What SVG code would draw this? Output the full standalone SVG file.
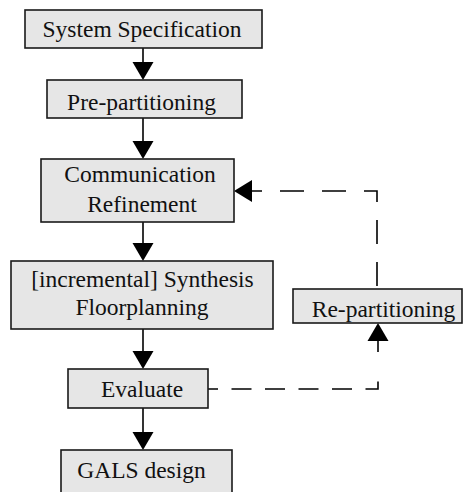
<svg xmlns="http://www.w3.org/2000/svg" width="463" height="492" viewBox="0 0 463 492">
<style>
.box{fill:#e6e6e6;stroke:#1a1a1a;stroke-width:1.6}
.t{font-family:"Liberation Serif","Times New Roman",serif;font-size:23.5px;fill:#111;text-anchor:middle}
.ln{stroke:#000;stroke-width:1.6;fill:none}
.ds{stroke:#000;stroke-width:1.6;fill:none}
.ah{fill:#000}
</style>
<rect width="463" height="492" fill="#fff"/>
<g id="connectors">
<path class="ln" d="M143,48V62"/>
<polygon class="ah" points="132.5,62 153.5,62 143,80"/>
<path class="ln" d="M143,118V141"/>
<polygon class="ah" points="132.5,141 153.5,141 143,159"/>
<path class="ln" d="M143,222V243"/>
<polygon class="ah" points="132.5,243 153.5,243 143,261"/>
<path class="ln" d="M143,329V351"/>
<polygon class="ah" points="132.5,351 153.5,351 143,369"/>
<path class="ln" d="M143,408V432"/>
<polygon class="ah" points="132.5,432 153.5,432 143,450"/>
<path class="ds" d="M207,389H378V379" stroke-dasharray="20 13.5" stroke-dashoffset="9"/>
<path class="ln" d="M378,352V341"/>
<polygon class="ah" points="367.5,341 388.5,341 378,323"/>
<path class="ds" d="M252,191H377V292" stroke-dasharray="24 18" stroke-dashoffset="14"/>
<polygon class="ah" points="252,180 252,202 234,191"/>
</g>
<g id="n-spec">
<rect class="box" x="25" y="10" width="237" height="38"/>
<text class="t" x="142" y="37">System Specification</text>
</g>
<g id="n-prepart">
<rect class="box" x="47" y="80" width="195" height="38"/>
<text class="t" x="141.5" y="110">Pre-partitioning</text>
</g>
<g id="n-comm">
<rect class="box" x="41" y="159" width="193" height="63"/>
<text class="t" x="140" y="182">Communication</text>
<text class="t" x="142" y="212">Refinement</text>
</g>
<g id="n-synth">
<rect class="box" x="11" y="261" width="262" height="68"/>
<text class="t" x="142.5" y="287">[incremental] Synthesis</text>
<text class="t" x="142" y="315">Floorplanning</text>
</g>
<g id="n-repart">
<rect class="box" x="293" y="289" width="169" height="34"/>
<text class="t" x="383.5" y="317">Re-partitioning</text>
</g>
<g id="n-eval">
<rect class="box" x="68" y="369" width="140" height="39"/>
<text class="t" x="142" y="397">Evaluate</text>
</g>
<g id="n-gals">
<rect class="box" x="61" y="450" width="171" height="60"/>
<text class="t" x="141.5" y="478">GALS design</text>
</g>
</svg>
